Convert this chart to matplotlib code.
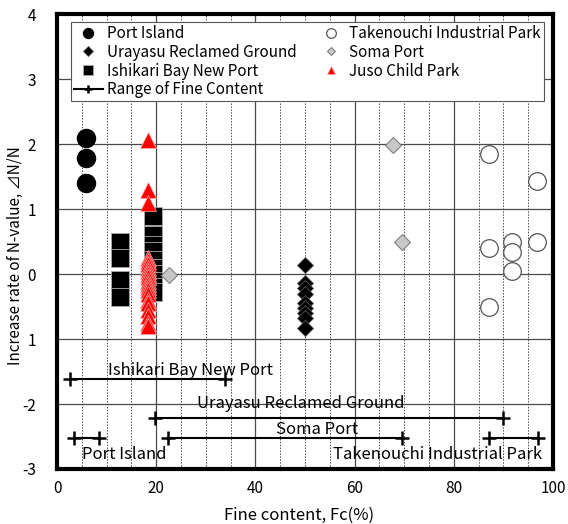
import matplotlib.pyplot as plt
import matplotlib.ticker as mticker

plt.rcParams.update({
    "font.family": ["Noto Sans CJK JP", "DejaVu Sans"],
    "axes.unicode_minus": False,
})

# ── data ─────────────────────────────────────────────────────────────────────
port_x = [5.9, 5.9, 5.9]
port_y = [2.1, 1.78, 1.4]

urayasu_x = [50] * 9
urayasu_y = [0.14, -0.14, -0.22, -0.30, -0.45, -0.52, -0.60, -0.68, -0.83]

ishikari_x = [12.7, 12.7, 12.7, 12.7] + [19.4] * 10
ishikari_y = [0.49, 0.24, -0.09, -0.35,
              0.90, 0.60, 0.45, 0.35, 0.22, 0.10, 0.0, -0.10, -0.20, -0.27]

take_x = [87.1, 96.8, 87.1, 91.7, 91.7, 91.7, 96.8, 87.1]
take_y = [1.85, 1.43, 0.40, 0.49, 0.34, 0.04, 0.49, -0.50]

soma_x = [22.6, 67.7, 69.6]
soma_y = [-0.02, 1.98, 0.49]

juso_x = [18.3] * 21
juso_y = [2.07, 1.30, 1.10, 0.25, 0.20, 0.15, 0.10, 0.05, 0.0, -0.05, -0.10,
          -0.15, -0.20, -0.25, -0.30, -0.40, -0.45, -0.55, -0.65, -0.75, -0.80]

# ranges of fine content: (x_min, x_max, y, label, label_x, label_y)
ranges = [
    (2.7, 33.8, -1.62, "Ishikari Bay New Port", 27.0, -1.48),
    (19.7, 89.9, -2.22, "Urayasu Reclamed Ground", 49.2, -1.99),
    (22.4, 69.5, -2.52, "Soma Port", 52.5, -2.39),
    (3.5, 8.4, -2.52, "Port Island", 13.6, -2.78),
    (87.2, 96.9, -2.52, "Takenouchi Industrial Park", 76.8, -2.78),
]

# ── plot ─────────────────────────────────────────────────────────────────────
fig = plt.figure(figsize=(5.68, 5.24), dpi=100)
ax = fig.add_axes([0.1004, 0.105, 0.873, 0.868])

ax.set_xlim(0, 100)
ax.set_ylim(-3, 4)
ax.xaxis.set_major_locator(mticker.MultipleLocator(20))
ax.xaxis.set_minor_locator(mticker.MultipleLocator(5))
ax.grid(True, which="major", color="#4a4a4a", linewidth=0.9)
ax.grid(True, which="minor", axis="x", color="#4a4a4a", linewidth=0.7, linestyle=(0, (1.5, 1.5)))
ax.set_axisbelow(True)
ax.tick_params(which="both", length=0, labelsize=11)
ax.tick_params(axis="y", pad=15)
ax.tick_params(axis="x", pad=8)
ax.set_yticks([-3, -2, -1, 0, 1, 2, 3, 4])
ax.set_yticklabels(["-3", "-2", "1", "0", "1", "2", "3", "4"])
for sp in ax.spines.values():
    sp.set_linewidth(3)

ax.set_xlabel("Fine content, Fc(%)", fontsize=12)
ax.xaxis.set_label_coords(0.488, -0.083)
ax.set_ylabel("Increase rate of N-value, ⊿N/N", fontsize=11)
ax.yaxis.set_label_coords(-0.066, 0.47)

ax.plot(port_x, port_y, "o", color="black", markersize=13, linestyle="none", label="Port Island")
ax.plot(urayasu_x, urayasu_y, "D", color="black", markeredgecolor="#555555", markeredgewidth=0.6,
        markersize=8.6, linestyle="none", label="Urayasu Reclamed Ground")
ax.plot(ishikari_x, ishikari_y, "s", color="black", markeredgecolor="#aaaaaa", markeredgewidth=0.6,
        markersize=12.5, linestyle="none", label="Ishikari Bay New Port")
ax.plot(take_x, take_y, "o", markerfacecolor="white", markeredgecolor="#555555", markeredgewidth=0.9,
        markersize=12.7, linestyle="none", label="Takenouchi Industrial Park")
ax.plot(soma_x, soma_y, "D", markerfacecolor="#c8c8c8", markeredgecolor="#808080", markeredgewidth=0.8,
        markersize=8, linestyle="none", label="Soma Port")
ax.plot(juso_x, juso_y, "^", color="red", markeredgecolor="#ffb0b0", markeredgewidth=0.5,
        markersize=11, linestyle="none", label="Juso Child Park")

for i, (x0, x1, y, name, lx, ly) in enumerate(ranges):
    ax.plot([x0, x1], [y, y], "-+", color="black", linewidth=1.5, markersize=10, markeredgewidth=1.8,
            label="Range of Fine Content" if i == 0 else None)
    ax.text(lx, ly, name, ha="center", va="center", fontsize=12)

handles, labels = ax.get_legend_handles_labels()
order = [0, 1, 2, 6, 3, 4, 5]
leg = ax.legend([handles[i] for i in order], [labels[i] for i in order],
                loc="upper left", bbox_to_anchor=(0.028, 0.983), ncol=2, fontsize=11,
                markerscale=0.55, handlelength=1.9, handletextpad=0.25, columnspacing=1.3,
                labelspacing=0.12, borderpad=0.2, borderaxespad=0, fancybox=False, framealpha=1,
                edgecolor="#555555")
leg.get_frame().set_linewidth(0.8)

fig.savefig("out.png", dpi=100)
